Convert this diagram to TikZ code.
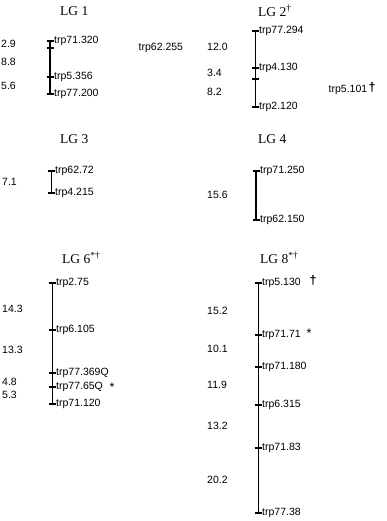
\documentclass[tikz,border=0pt]{standalone}
\usepackage{fontspec}
\setmainfont{Liberation Sans}
\newfontfamily\titlefont{Liberation Serif}
\begin{document}
\begin{tikzpicture}[x=1pt,y=-1pt,
  lab/.style={font=\fontsize{10.5}{12}\selectfont, anchor=west, inner sep=0.5pt},
  dist/.style={font=\fontsize{10.5}{12}\selectfont, anchor=west, inner sep=0pt},
  ttl/.style={font=\titlefont\fontsize{13.5}{15}\selectfont, anchor=west, inner sep=0pt},
  mk/.style={font=\fontsize{12.5}{13}\selectfont, inner sep=0pt},
  axis/.style={line width=1pt},
  thick axis/.style={line width=1.3pt},
  tk/.style={line width=1.1pt}]
\useasboundingbox (0,0) rectangle (387,521);

% ---------- LG 1 ----------
\node[ttl] (t1) at (60,11) {LG 1};
\coordinate (a1) at (50,41);
\coordinate (a2) at (50,48);
\coordinate (a3) at (50,77);
\coordinate (a4) at (50,94);
\draw[thick axis] (a1) -- (a4);
\foreach \c in {a1,a2,a3,a4} \draw[tk] ([xshift=-3.5pt]\c) -- ([xshift=3.5pt]\c);
\node[lab] (la1) at ([xshift=3.5pt]a1) {trp71.320};
\node[lab] (la3) at ([xshift=3.5pt]a3) {trp5.356};
\node[lab] (la4) at ([xshift=3.5pt]a4) {trp77.200};
\node[lab] (la0) at (138,48) {trp62.255};
\node[dist] (da1) at (1,44) {2.9};
\node[dist] (da2) at (1,62) {8.8};
\node[dist] (da3) at (1,86) {5.6};

% ---------- LG 2 ----------
\node[ttl] (t2) at (258,11) {LG 2\textsuperscript{†}};
\coordinate (b1) at (255,31);
\coordinate (b2) at (255,68);
\coordinate (b3) at (255,79);
\coordinate (b4) at (255,107);
\draw[axis] (b1) -- (b4);
\foreach \c in {b1,b2,b3,b4} \draw[tk] ([xshift=-3.5pt]\c) -- ([xshift=3.5pt]\c);
\node[lab] (lb1) at ([xshift=3.5pt]b1) {trp77.294};
\node[lab] (lb2) at ([xshift=3.5pt]b2) {trp4.130};
\node[lab] (lb4) at ([xshift=3.5pt]b4) {trp2.120};
\node[lab] (lb0) at (328,90) {trp5.101};
\node[mk] (xb0) at (372,87) {\textbf{†}};
\node[dist] (db1) at (207,47) {12.0};
\node[dist] (db2) at (207,73) {3.4};
\node[dist] (db3) at (207,92) {8.2};

% ---------- LG 3 ----------
\node[ttl] (t3) at (60,139) {LG 3};
\coordinate (c1) at (51,171);
\coordinate (c2) at (51,193);
\draw[axis] (c1) -- (c2);
\foreach \c in {c1,c2} \draw[tk] ([xshift=-3.5pt]\c) -- ([xshift=3.5pt]\c);
\node[lab] (lc1) at ([xshift=3.5pt]c1) {trp62.72};
\node[lab] (lc2) at ([xshift=3.5pt]c2) {trp4.215};
\node[dist] (dc1) at (2,182) {7.1};

% ---------- LG 4 ----------
\node[ttl] (t4) at (258,139) {LG 4};
\coordinate (e1) at (256,171);
\coordinate (e2) at (256,220);
\draw[thick axis] (e1) -- (e2);
\foreach \c in {e1,e2} \draw[tk] ([xshift=-3.5pt]\c) -- ([xshift=3.5pt]\c);
\node[lab] (le1) at ([xshift=3.5pt]e1) {trp71.250};
\node[lab] (le2) at ([xshift=3.5pt]e2) {trp62.150};
\node[dist] (de1) at (207,195) {15.6};

% ---------- LG 6 ----------
\node[ttl] (t6) at (62,258) {LG 6\textsuperscript{*†}};
\coordinate (f1) at (52,283);
\coordinate (f2) at (52,330);
\coordinate (f3) at (52,373);
\coordinate (f4) at (52,387);
\coordinate (f5) at (52,404);
\draw[axis] (f1) -- (f5);
\foreach \c in {f1,f2,f3,f4,f5} \draw[tk] ([xshift=-3.5pt]\c) -- ([xshift=3.5pt]\c);
\node[lab] (lf1) at ([xshift=3.5pt]f1) {trp2.75};
\node[lab] (lf2) at ([xshift=3.5pt]f2) {trp6.105};
\node[lab] (lf3) at ([xshift=3.5pt]f3) {trp77.369Q};
\node[lab] (lf4) at ([xshift=3.5pt]f4) {trp77.65Q};
\node[lab] (lf5) at ([xshift=3.5pt]f5) {trp71.120};
\node[mk] (xf4) at (112,387) {*};
\node[dist] (df1) at (2,309) {14.3};
\node[dist] (df2) at (2,350) {13.3};
\node[dist] (df3) at (2,382) {4.8};
\node[dist] (df4) at (2,395) {5.3};

% ---------- LG 8 ----------
\node[ttl] (t8) at (260,258) {LG 8\textsuperscript{*†}};
\coordinate (g1) at (258,283);
\coordinate (g2) at (258,335);
\coordinate (g3) at (258,367);
\coordinate (g4) at (258,405);
\coordinate (g5) at (258,448);
\coordinate (g6) at (258,513);
\draw[axis] (g1) -- (g6);
\foreach \c in {g1,g2,g3,g4,g5,g6} \draw[tk] ([xshift=-3.5pt]\c) -- ([xshift=3.5pt]\c);
\node[lab] (lg1) at ([xshift=3.5pt]g1) {trp5.130};
\node[lab] (lg2) at ([xshift=3.5pt]g2) {trp71.71};
\node[lab] (lg3) at ([xshift=3.5pt]g3) {trp71.180};
\node[lab] (lg4) at ([xshift=3.5pt]g4) {trp6.315};
\node[lab] (lg5) at ([xshift=3.5pt]g5) {trp71.83};
\node[lab] (lg6) at ([xshift=3.5pt]g6) {trp77.38};
\node[mk] (xg1) at (313,280) {\textbf{†}};
\node[mk] (xg2) at (309,333) {*};
\node[dist] (dg1) at (207,311) {15.2};
\node[dist] (dg2) at (207,349) {10.1};
\node[dist] (dg3) at (207,385) {11.9};
\node[dist] (dg4) at (207,426) {13.2};
\node[dist] (dg5) at (207,480) {20.2};
\end{tikzpicture}
\end{document}
